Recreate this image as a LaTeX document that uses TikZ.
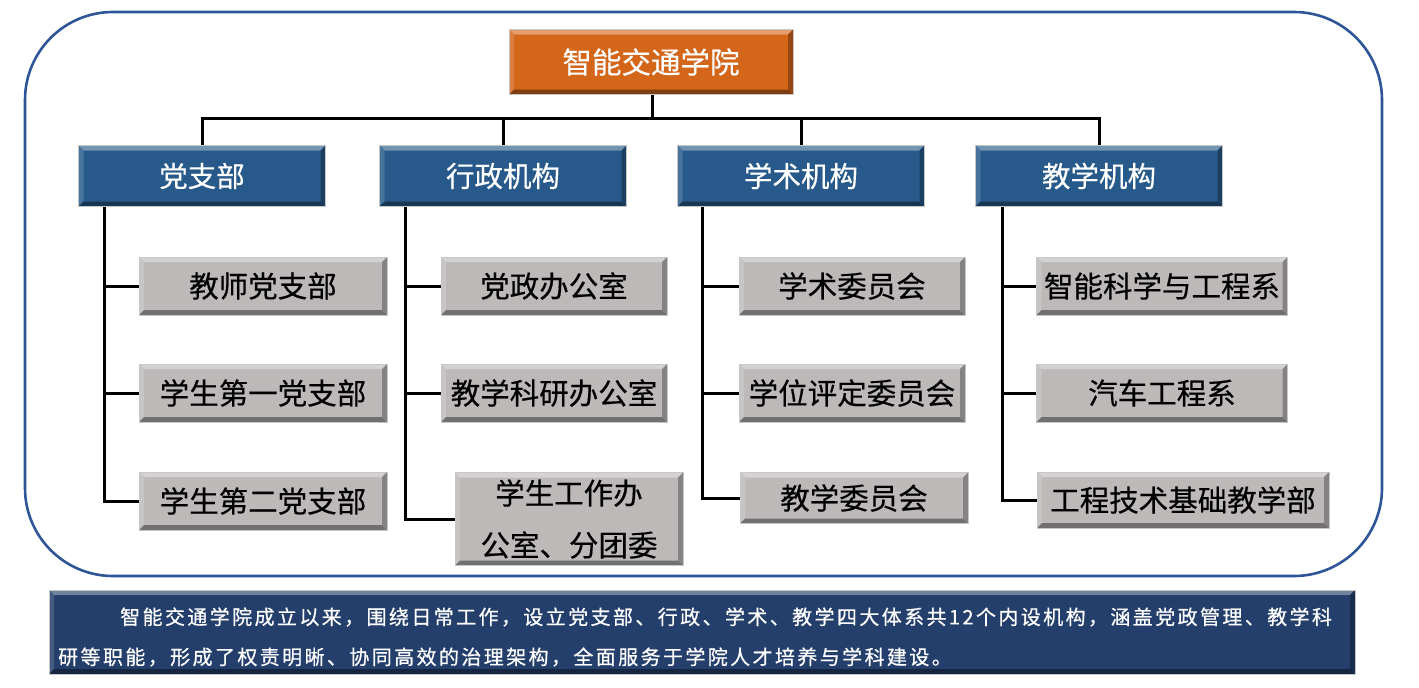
\documentclass[tikz,border=0pt]{standalone}
\usepackage{fontspec}
\setmainfont[FakeBold=0.4]{Noto Sans CJK SC}
\newfontfamily\bodyfont[LetterSpace=12,FakeBold=0.6]{Noto Sans CJK SC}
\definecolor{orangebox}{HTML}{D4661A}
\definecolor{bluebox}{HTML}{275A8A}
\definecolor{graybox}{HTML}{BDB9B9}
\definecolor{navybox}{HTML}{243F6B}
\definecolor{frameblue}{HTML}{2E5597}
\tikzset{
  bevel/.style={fill=#1, draw=black!22, line width=1pt, inner sep=0pt,
    path picture={
      \path (path picture bounding box.north west) coordinate (nw)
            (path picture bounding box.north east) coordinate (ne)
            (path picture bounding box.south west) coordinate (sw)
            (path picture bounding box.south east) coordinate (se);
      \fill[#1!65!white] (nw) -- (ne) -- ([shift={(-5pt,-5pt)}]ne) -- ([shift={(5pt,-5pt)}]nw) -- cycle;
      \fill[#1!85!white] (nw) -- (sw) -- ([shift={(5pt,5pt)}]sw) -- ([shift={(5pt,-5pt)}]nw) -- cycle;
      \fill[#1!60!black] (sw) -- (se) -- ([shift={(-5pt,5pt)}]se) -- ([shift={(5pt,5pt)}]sw) -- cycle;
      \fill[#1!70!black] (ne) -- (se) -- ([shift={(-5pt,5pt)}]se) -- ([shift={(-5pt,-5pt)}]ne) -- cycle;
    }},
  topbox/.style={bevel=orangebox, text=white, font=\fontsize{29.5}{33}\selectfont,
    minimum width=284pt, minimum height=65pt},
  headbox/.style={bevel=bluebox, text=white, font=\fontsize{28.5}{32}\selectfont,
    minimum width=247pt, minimum height=61pt},
  unitbox/.style={bevel=graybox, text=black, font=\fontsize{29.5}{33}\selectfont,
    minimum height=58pt},
  wire/.style={line width=3pt, black},
  bodytext/.style={text=white, anchor=west, inner sep=0pt,
    font=\bodyfont\fontsize{20}{22}\selectfont}
}
\begin{document}
\begin{tikzpicture}[x=1pt,y=-1pt]
\useasboundingbox (0,0) rectangle (1419,688);
% outer frame
\draw[frameblue, line width=2.6pt, rounded corners=88pt] (25,12) rectangle (1382,576);

% top
\node[topbox] (T) at (651,62) {智能交通学院};

% heads
\node[headbox] (H1) at (202,176) {党支部};
\node[headbox] (H2) at (503,176) {行政机构};
\node[headbox] (H3) at (801,176) {学术机构};
\node[headbox] (H4) at (1099,176) {教学机构};

% units col 1
\node[unitbox, minimum width=248pt] (A1) at (263,286) {教师党支部};
\node[unitbox, minimum width=248pt] (A2) at (263,393) {学生第一党支部};
\node[unitbox, minimum width=248pt] (A3) at (263,501) {学生第二党支部};
% col 2
\node[unitbox, minimum width=226pt] (B1) at (554,286) {党政办公室};
\node[unitbox, minimum width=226pt] (B2) at (554,393) {教学科研办公室};
\node[unitbox, minimum width=228pt, minimum height=93pt, align=center,
      font=\fontsize{29.5}{52}\selectfont] (B3) at (569,519) {学生工作办\\公室、分团委};
% col 3
\node[unitbox, minimum width=226pt] (C1) at (852,286) {学术委员会};
\node[unitbox, minimum width=226pt] (C2) at (852,393) {学位评定委员会};
\node[unitbox, minimum width=228pt, minimum height=51pt] (C3) at (854,498) {教学委员会};
% col 4
\node[unitbox, minimum width=251pt] (D1) at (1162,286) {智能科学与工程系};
\node[unitbox, minimum width=251pt] (D2) at (1162,393) {汽车工程系};
\node[unitbox, minimum width=292pt, minimum height=56pt] (D3) at (1183,500) {工程技术基础教学部};

% connectors top level
\coordinate (bus) at (652,118);
\draw[wire] (T.south -| bus) -- (bus);
\draw[wire] (H1.north) |- (bus) -| (H4.north);
\draw[wire] (H2.north) -- (H2.north |- bus);
\draw[wire] (H3.north) -- (H3.north |- bus);

% trunks
\coordinate (t1) at ([xshift=26pt]H1.south west);
\coordinate (t2) at ([xshift=26pt]H2.south west);
\coordinate (t3) at ([xshift=25pt]H3.south west);
\coordinate (t4) at ([xshift=27pt]H4.south west);
\draw[wire] (t1) |- (A3.west);
\draw[wire] (A1.west) -- (A1.west -| t1);
\draw[wire] (A2.west) -- (A2.west -| t1);
\draw[wire] (t2) |- (B3.west);
\draw[wire] (B1.west) -- (B1.west -| t2);
\draw[wire] (B2.west) -- (B2.west -| t2);
\draw[wire] (t3) |- (C3.west);
\draw[wire] (C1.west) -- (C1.west -| t3);
\draw[wire] (C2.west) -- (C2.west -| t3);
\draw[wire] (t4) |- (D3.west);
\draw[wire] (D1.west) -- (D1.west -| t4);
\draw[wire] (D2.west) -- (D2.west -| t4);

% bottom description
\node[bevel=navybox, minimum width=1306pt, minimum height=84pt] (S) at (702,632) {};
\node[bodytext] (L1) at (120,617) {智能交通学院成立以来，围绕日常工作，设立党支部、行政、学术、教学四大体系共12个内设机构，涵盖党政管理、教学科};
\node[bodytext] (L2) at (58,657) {研等职能，形成了权责明晰、协同高效的治理架构，全面服务于学院人才培养与学科建设。};
\end{tikzpicture}
\end{document}
